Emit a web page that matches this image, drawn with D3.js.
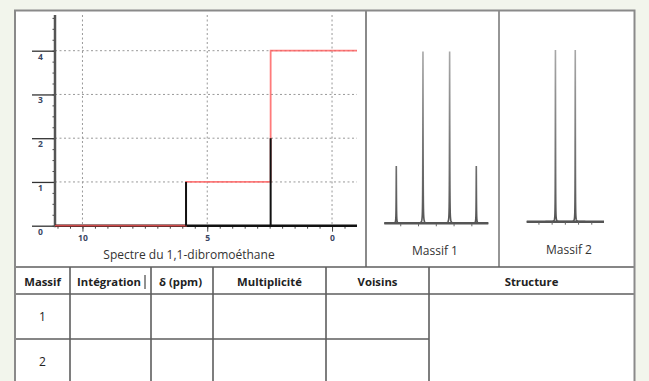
<!DOCTYPE html>
<html>
<head>
<meta charset="utf-8">
<script src="https://cdn.jsdelivr.net/npm/d3@7"></script>
<style>
  html, body { margin: 0; padding: 0; background: #f2f5ec; }
  svg { display: block; }
  text { font-family: "Open Sans", "Noto Sans", sans-serif; }
</style>
</head>
<body>
<svg id="sheet" width="649" height="381"></svg>
<script>
// ---- Spectrum data (1,1-dibromoethane) ----
const mainPeakPpm     = [5.85, 2.46];   // chemical shifts of the two signals
const mainPeakHeight  = [1, 2];         // drawn peak heights
const integralStepPpm = [5.85, 2.46];   // where the integral curve steps up
const integralStep    = [1, 3];         // size of each integral step
const xMajorTicks = [10, 5, 0];
const yMajorTicks = [0, 1, 2, 3, 4];

// ---- Fine structure of each signal (Hz offsets from the centre) ----
const massif1Offsets = [-9, -3, 3, 9];   // quartet
const massif1Heights = [1, 3, 3, 1];
const massif2Offsets = [-3, 3];          // doublet
const massif2Heights = [1, 1];
const zoomTicks = [-8, -4, 0, 4, 8];

// ---- Table ----
const tableHeaders = ["Massif", "Intégration", "δ (ppm)", "Multiplicité", "Voisins", "Structure"];
const tableRows = ["1", "2"];
const panelLabels = ["Spectre du 1,1-dibromoéthane", "Massif 1", "Massif 2"];

const svg = d3.select("#sheet");
const frameColor = "#8a8a8a", lineColor = "#5e5e5e";

// white sheet
svg.append("rect").attr("x", 15).attr("y", 11).attr("width", 619.5).attr("height", 380).attr("fill", "#fff");

// ================= Main spectrum =================
const x = d3.scaleLinear().domain([11.1, -1]).range([55, 357]);
const y = d3.scaleLinear().domain([0, 4]).range([225.7, 50.7]);
const g = svg.append("g");

// dotted grid
g.selectAll("line.vgrid").data(xMajorTicks).join("line")
  .attr("x1", d => x(d)).attr("x2", d => x(d)).attr("y1", 15).attr("y2", y(0))
  .attr("stroke", "#999").attr("stroke-width", 1).attr("stroke-dasharray", "2,2.5");
g.selectAll("line.hgrid").data(yMajorTicks.filter(d => d > 0)).join("line")
  .attr("x1", x.range()[0]).attr("x2", x.range()[1]).attr("y1", d => y(d)).attr("y2", d => y(d))
  .attr("stroke", "#999").attr("stroke-width", 1).attr("stroke-dasharray", "2,2.5");

// x axis: minor ticks every 0.5 ppm, longer major ticks
const xMinor = x.ticks(22).filter(d => d <= 11 && d >= -0.5);
const xAxis = d3.axisBottom(x).tickValues(xMinor).tickSize(3).tickFormat("");
const gx = g.append("g").attr("transform", `translate(0,${y(0)})`).call(xAxis);
gx.select(".domain").remove();
gx.selectAll(".tick line").attr("stroke", "#444");
const gxMaj = g.append("g").attr("transform", `translate(0,${y(0)})`)
  .call(d3.axisBottom(x).tickValues(xMajorTicks).tickSize(6).tickPadding(3));
gxMaj.select(".domain").remove();
gxMaj.selectAll(".tick line").attr("stroke", "#444");
gxMaj.selectAll(".tick text").attr("font-size", 8.5).attr("font-weight", "bold")
  .attr("fill", "#3a4663").attr("font-family", "Liberation Sans, sans-serif");

// y axis: minor ticks every 0.25, major ticks with labels beneath
const yMinor = d3.range(0, 4.8, 0.25);
const gy = g.append("g").attr("transform", `translate(${x.range()[0]},0)`)
  .call(d3.axisLeft(y).tickValues(yMinor).tickSize(2.5).tickFormat(""));
gy.select(".domain").remove();
gy.selectAll(".tick line").attr("stroke", "#444");
const gyMaj = g.append("g").attr("transform", `translate(${x.range()[0]},0)`)
  .call(d3.axisLeft(y).tickValues(yMajorTicks).tickSize(23).tickFormat(""));
gyMaj.select(".domain").remove();
gyMaj.selectAll(".tick line").attr("stroke", "#333").attr("stroke-width", 1.3);
gyMaj.selectAll(".tick").append("text")
  .attr("x", -17).attr("y", 8.5).attr("text-anchor", "start")
  .attr("font-size", 8.5).attr("font-weight", "bold").attr("fill", "#3a4663")
  .attr("font-family", "Liberation Sans, sans-serif")
  .text(d => d);

// vertical axis line
g.append("line").attr("x1", x.range()[0]).attr("x2", x.range()[0])
  .attr("y1", 15).attr("y2", y(0) + 1.5).attr("stroke", "#555").attr("stroke-width", 2.5);

// spectrum baseline
g.append("line").attr("x1", x.range()[0]).attr("x2", x.range()[1])
  .attr("y1", y(0)).attr("y2", y(0)).attr("stroke", "#111").attr("stroke-width", 2.4);

// integral curve
const integralPts = [[x.domain()[0], 0]];
let cum = 0;
integralStepPpm.forEach((p, i) => { cum += integralStep[i]; integralPts.push([p, cum]); });
integralPts.push([x.domain()[1], cum]);
g.append("path").datum(integralPts)
  .attr("d", d3.line().x(d => x(d[0])).y(d => y(d[1])).curve(d3.curveStepAfter))
  .attr("fill", "none").attr("stroke", "#ff5a5a").attr("stroke-opacity", 0.8).attr("stroke-width", 1.8);

// spectrum peaks
g.selectAll("line.peak").data(mainPeakPpm).join("line")
  .attr("x1", d => x(d)).attr("x2", d => x(d))
  .attr("y1", y(0)).attr("y2", (d, i) => y(mainPeakHeight[i]))
  .attr("stroke", "#111").attr("stroke-width", 2);

svg.append("text").attr("x", 189).attr("y", 259).attr("text-anchor", "middle")
  .attr("font-size", 12).attr("fill", "#333").text(panelLabels[0]);

// ================= Zoomed multiplets =================
const defs = svg.append("defs");
function drawMultiplet(offsets, heights, xRange, base, top, maxH, id) {
  const xs = d3.scaleLinear().domain([-11.7, 11.7]).range(xRange);
  const ys = d3.scaleLinear().domain([0, maxH]).range([base, top]);
  const grad = defs.append("linearGradient").attr("id", id)
    .attr("gradientUnits", "userSpaceOnUse").attr("x1", 0).attr("x2", 0).attr("y1", top).attr("y2", base);
  grad.append("stop").attr("offset", "0").attr("stop-color", "#a8a8a8");
  grad.append("stop").attr("offset", "0.55").attr("stop-color", "#777");
  grad.append("stop").attr("offset", "1").attr("stop-color", "#555");

  // Lorentzian line shape built from the listed lines
  const w = 0.035;
  const pts = d3.range(xs.domain()[0], xs.domain()[1] + 1e-9, 0.005).map(h => {
    let v = 0;
    offsets.forEach((o, i) => { v += heights[i] * w * w / ((h - o) * (h - o) + w * w); });
    return [h, v];
  });
  const gm = svg.append("g");
  gm.append("line").attr("x1", xRange[0]).attr("x2", xRange[1]).attr("y1", base).attr("y2", base)
    .attr("stroke", "#555").attr("stroke-width", 2.4);
  gm.selectAll("line.t").data(zoomTicks).join("line")
    .attr("x1", d => xs(d)).attr("x2", d => xs(d)).attr("y1", base).attr("y2", base + 3)
    .attr("stroke", "#666").attr("stroke-width", 1);
  gm.append("path").datum(pts)
    .attr("d", d3.line().x(d => xs(d[0])).y(d => ys(d[1])))
    .attr("fill", "none").attr("stroke", `url(#${id})`).attr("stroke-width", 1.6);
}
drawMultiplet(massif1Offsets, massif1Heights, [384.3, 488.3], 223.3, 51.6, 3, "g1");
drawMultiplet(massif2Offsets, massif2Heights, [526.7, 604], 221.7, 50, 1, "g2");

svg.append("text").attr("x", 435).attr("y", 255).attr("text-anchor", "middle")
  .attr("font-size", 12).attr("fill", "#333").text(panelLabels[1]);
svg.append("text").attr("x", 569).attr("y", 254).attr("text-anchor", "middle")
  .attr("font-size", 12).attr("fill", "#333").text(panelLabels[2]);

// ================= Frames =================
svg.append("line").attr("x1", 366).attr("x2", 366).attr("y1", 10.5).attr("y2", 267).attr("stroke", frameColor).attr("stroke-width", 2);
svg.append("line").attr("x1", 499).attr("x2", 499).attr("y1", 10.5).attr("y2", 267).attr("stroke", lineColor).attr("stroke-width", 1.3);

// ================= Table =================
const colEdges = [15, 70, 151, 213, 326, 429, 634];
const rowEdges = [267, 294, 339, 383];
const gt = svg.append("g");
// horizontal rules
gt.append("line").attr("x1", 15).attr("x2", 634).attr("y1", rowEdges[0]).attr("y2", rowEdges[0]).attr("stroke", lineColor).attr("stroke-width", 1.6);
gt.append("line").attr("x1", 15).attr("x2", 634).attr("y1", rowEdges[1]).attr("y2", rowEdges[1]).attr("stroke", lineColor).attr("stroke-width", 1.6);
gt.append("line").attr("x1", 15).attr("x2", colEdges[5]).attr("y1", rowEdges[2]).attr("y2", rowEdges[2]).attr("stroke", lineColor).attr("stroke-width", 1.6);
// vertical rules
gt.selectAll("line.col").data(colEdges.slice(1, -1)).join("line")
  .attr("x1", d => d).attr("x2", d => d).attr("y1", rowEdges[0]).attr("y2", 381)
  .attr("stroke", lineColor).attr("stroke-width", 1.6);
// headers
gt.selectAll("text.h").data(tableHeaders).join("text")
  .attr("x", (d, i) => (colEdges[i] + colEdges[i + 1]) / 2 - (i === 1 ? 1.5 : 0) - (i === 2 ? 1.5 : 0))
  .attr("y", 285.5).attr("text-anchor", "middle")
  .attr("font-size", 11.3).attr("font-weight", "bold").attr("fill", "#222").text(d => d);
// text cursor after "Intégration"
gt.append("line").attr("x1", 145).attr("x2", 145).attr("y1", 275).attr("y2", 289).attr("stroke", "#222").attr("stroke-width", 1);
// row numbers
gt.selectAll("text.r").data(tableRows).join("text")
  .attr("x", (colEdges[0] + colEdges[1]) / 2)
  .attr("y", (d, i) => (rowEdges[i + 1] + rowEdges[i + 2]) / 2 + 4.5)
  .attr("text-anchor", "middle").attr("font-size", 12).attr("fill", "#222").text(d => d);

// outer frame
svg.append("rect").attr("x", 15).attr("y", 10.5).attr("width", 619.5).attr("height", 380)
  .attr("fill", "none").attr("stroke", frameColor).attr("stroke-width", 2);
</script>
</body>
</html>
